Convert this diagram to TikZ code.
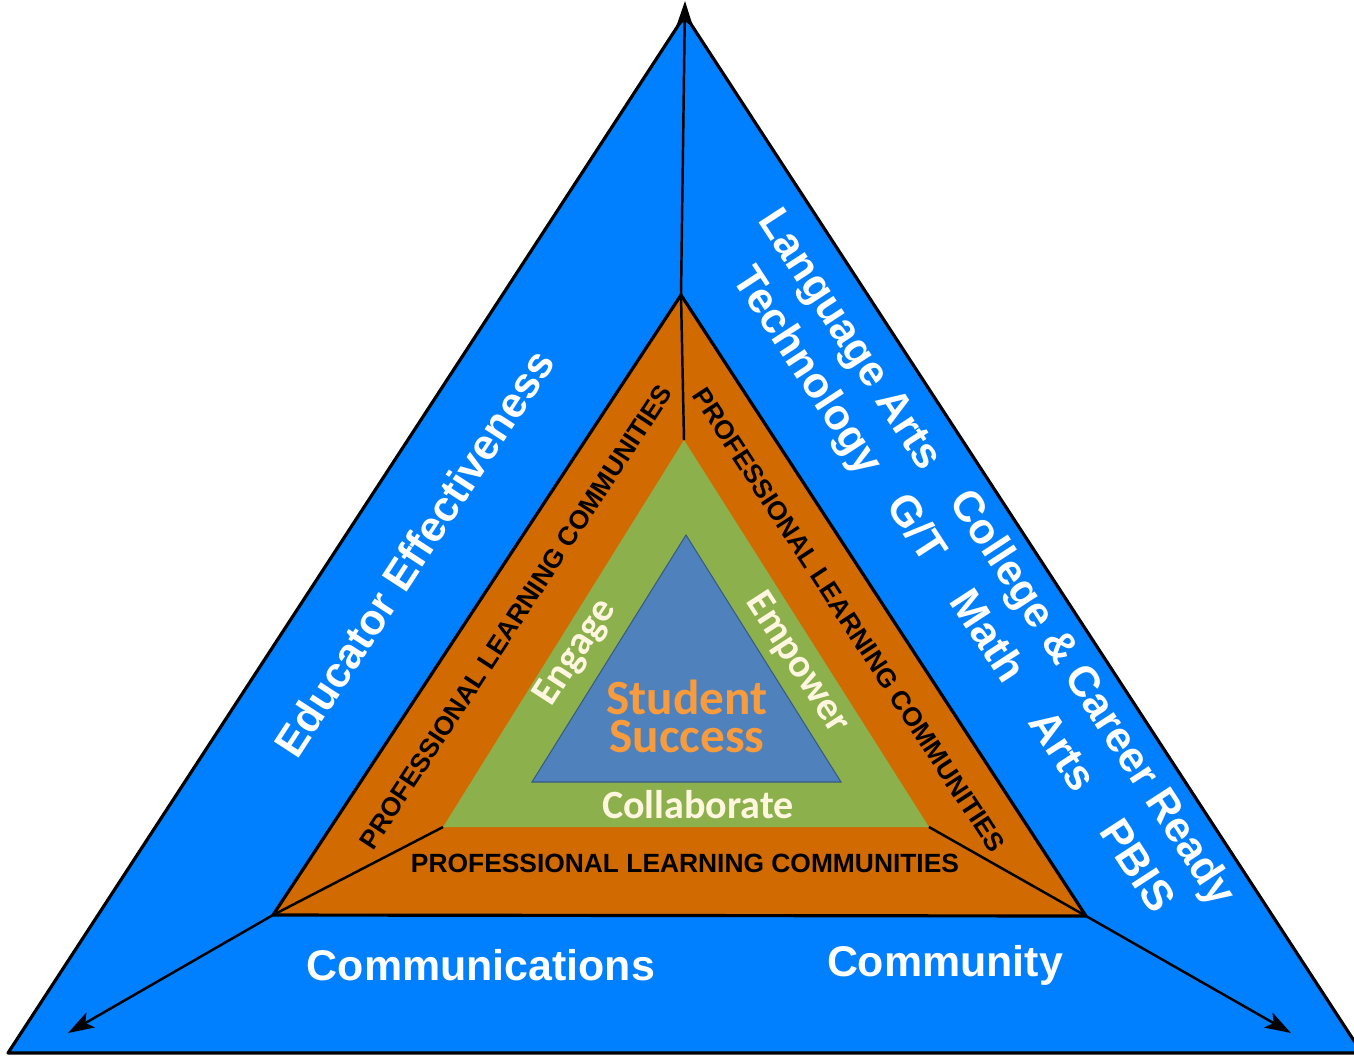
\documentclass[tikz,border=0pt]{standalone}
\usepackage{fontspec}
\setmainfont{Liberation Sans}
\newfontfamily\carlito{Carlito}
\usetikzlibrary{arrows.meta}

\definecolor{outerblue}{RGB}{0,128,255}
\definecolor{plcorange}{RGB}{209,106,0}
\definecolor{leafgreen}{RGB}{140,176,76}
\definecolor{coreblue}{RGB}{79,129,189}
\definecolor{cream}{RGB}{255,246,224}
\definecolor{goldtext}{RGB}{247,155,60}

\tikzset{
  outerlabel/.style={text=white, font=\bfseries\fontsize{12.2}{14}\selectfont, inner sep=0pt},
  plclabel/.style={text=black, font=\bfseries\fontsize{7.5}{9}\selectfont, inner sep=0pt},
  corelabel/.style={text=cream, font=\carlito\bfseries\fontsize{11.4}{13}\selectfont, inner sep=0pt},
  goldlabel/.style={text=goldtext, font=\carlito\bfseries\fontsize{14}{10.8}\selectfont, inner sep=0pt, align=center},
  pointer/.style={-{Stealth[length=2.6mm,width=1.7mm,inset=0.6mm]}, line width=0.7pt},
}

\begin{document}
\begin{tikzpicture}[x=0.01cm, y=-0.01cm]
	\clip (0,0) rectangle (1354,1056);
	\fill[white] (0,0) rectangle (1354,1056);

	\coordinate (top) at (685,15);
    \coordinate (left) at (8,1053);
    \coordinate (right) at (1362,1053);
	\coordinate (pA) at (681,295);
    \coordinate (pB) at (273,915);
    \coordinate (pC) at (1086,916);
	\coordinate (gA) at (684,440);
    \coordinate (gB) at (443,827);
    \coordinate (gC) at (929,827);
	\coordinate (cA) at (686,535);
    \coordinate (cB) at (532,782);
    \coordinate (cC) at (841,782);
	\coordinate (tipT) at (685,1);
    \coordinate (tipL) at (68,1033);
    \coordinate (tipR) at (1291,1033);

	\draw [fill=outerblue, line width=0.9pt, line join=round] (top) -- (left) -- (right) -- cycle;
	\draw [fill=plcorange, line width=0.9pt, line join=round] (pA) -- (pB) -- (pC) -- cycle;
	\fill [leafgreen] (gA) -- (gB) -- (gC) -- cycle;
	\draw [fill=coreblue, draw=coreblue!70!black, line width=0.3pt] (cA) -- (cB) -- (cC) -- cycle;

	\draw [line width=0.7pt] (gA) -- (pA);
	\draw [line width=0.7pt] (gB) -- (pB);
	\draw [line width=0.7pt] (gC) -- (pC);
	\draw [pointer] (pA) -- (tipT);
	\draw [pointer] (pB) -- (tipL);
	\draw [pointer] (pC) -- (tipR);

	\node [outerlabel, rotate=56.9] (educ) at (414,553) {Educator Effectiveness};
	\node [outerlabel, rotate=-56.9] (lang) at (848,341) {Language Arts};
	\node [outerlabel, rotate=-56.9] (tech) at (806,372) {Technology};
	\node [outerlabel, rotate=-56.9] (ccr) at (1091,699) {College \& Career Ready};
	\node [outerlabel, rotate=-56.9] (subj) at (1032,702) {G/T\hspace{4.4mm}Math\hspace{4.4mm}Arts\hspace{4.4mm}PBIS};
	\node [outerlabel] (comm) at (481,965) {Communications};
	\node [outerlabel] (cmty) at (945,965) {Community};

	\node [plclabel, rotate=56.8] (plcL) at (516,617) {PROFESSIONAL LEARNING COMMUNITIES};
	\node [plclabel, rotate=-56.8] (plcR) at (849,620) {PROFESSIONAL LEARNING COMMUNITIES};
	\node [plclabel] (plcB) at (685,863) {PROFESSIONAL LEARNING COMMUNITIES};

	\node [corelabel, rotate=57] (eng) at (576,653) {Engage};
	\node [corelabel, rotate=-57] (emp) at (797,663) {Empower};
	\node [corelabel] (coll) at (698,805) {Collaborate};
	\node [goldlabel] (succ) at (687,716) {Student\\Success};
\end{tikzpicture}
\end{document}
